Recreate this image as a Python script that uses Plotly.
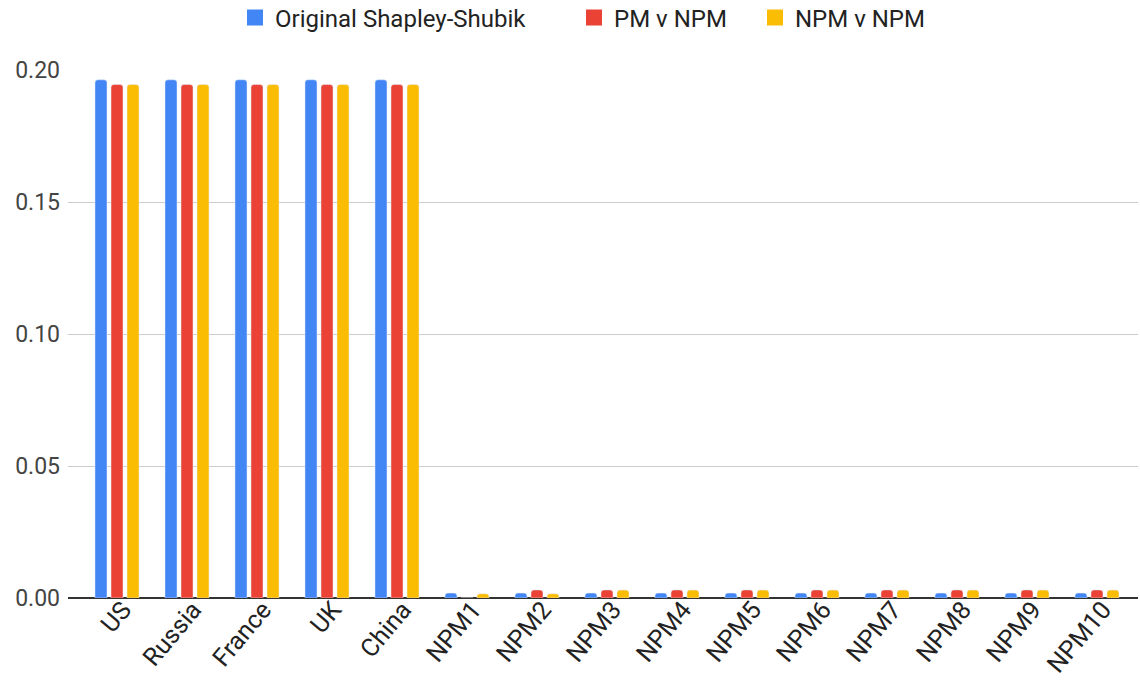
import plotly.graph_objects as go

categories = ["US", "Russia", "France", "UK", "China", "NPM1", "NPM2", "NPM3",
              "NPM4", "NPM5", "NPM6", "NPM7", "NPM8", "NPM9", "NPM10"]
original_ss = [0.1963, 0.1963, 0.1963, 0.1963, 0.1963,
               0.00186, 0.00186, 0.00186, 0.00186, 0.00186,
               0.00186, 0.00186, 0.00186, 0.00186, 0.00186]
pm_v_npm = [0.1945, 0.1945, 0.1945, 0.1945, 0.1945,
            0.0, 0.00306, 0.00306, 0.00306, 0.00306,
            0.00306, 0.00306, 0.00306, 0.00306, 0.00306]
npm_v_npm = [0.1945, 0.1945, 0.1945, 0.1945, 0.1945,
             0.0016, 0.0016, 0.003, 0.003, 0.003,
             0.003, 0.003, 0.003, 0.003, 0.003]
y_ticks = [0.0, 0.05, 0.10, 0.15, 0.20]
series_names = ["Original Shapley-Shubik", "PM v NPM", "NPM v NPM"]
series_colors = ["#4285F4", "#EA4335", "#FBBC04"]

legend_ids = ["legend", "legend2", "legend3"]
legend_left_px = [235, 574, 755]

fig = go.Figure()
for name, vals, col, lid in zip(series_names, [original_ss, pm_v_npm, npm_v_npm],
                                series_colors, legend_ids):
    fig.add_bar(x=categories, y=vals, name=name, marker_color=col,
                legendgroup=name, showlegend=False)
    # legend entry with a larger square swatch
    fig.add_scatter(x=[None], y=[None], mode="markers", name=name, legendgroup=name,
                    legend=lid, marker=dict(symbol="square", size=16, color=col),
                    showlegend=True)

legend_common = dict(orientation="h", xanchor="left", y=1 - 18 / 688, yanchor="middle",
                     xref="container", yref="container",
                     font=dict(size=24, color="#222222"), itemsizing="trace",
                     bgcolor="rgba(0,0,0,0)", borderwidth=0)
layout_legends = {lid: dict(legend_common, x=px / 1140)
                  for lid, px in zip(legend_ids, legend_left_px)}

fig.update_layout(
    width=1140, height=688,
    margin=dict(l=68, r=2, t=70, b=90, autoexpand=False),
    paper_bgcolor="white", plot_bgcolor="white",
    barmode="group", bargap=0.314, bargroupgap=0.25, barcornerradius=3,
    font=dict(family="Roboto", size=22, color="#444444"),
    showlegend=True,
    **layout_legends,
)
fig.update_xaxes(range=[-0.7, 14.586], tickangle=-50, showgrid=False, ticks="",
                 showline=False, automargin=False, ticklabelstandoff=-9,
                 ticklabelshift=6,
                 tickfont=dict(size=25, color="#222222"))
fig.update_yaxes(range=[0, 0.2], tickvals=y_ticks, tickformat=".2f", showgrid=True,
                 gridcolor="#cccccc", gridwidth=1, zeroline=True, zerolinecolor="#333333",
                 zerolinewidth=2, ticks="", automargin=False,
                 tickfont=dict(size=23, color="#444444"), ticklabelstandoff=7)
fig.write_html("out.html", config={"displayModeBar": False},
               post_script="document.body.style.margin='0';")
